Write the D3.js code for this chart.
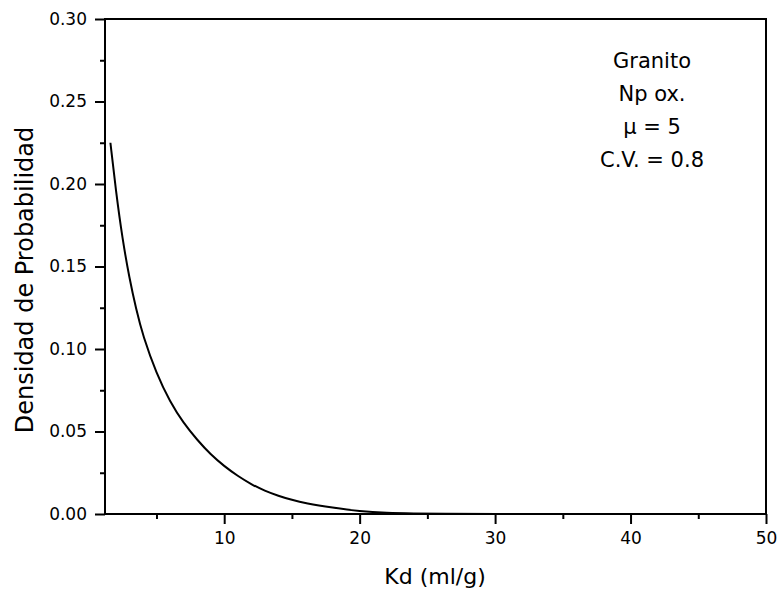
<!DOCTYPE html>
<html>
<head>
<meta charset="utf-8">
<script src="https://cdn.jsdelivr.net/npm/d3@7"></script>
<style>
body { margin: 0; background: #fff; }
svg text { font-family: "DejaVu Sans", sans-serif; fill: #000; }
</style>
</head>
<body>
<div class="container"></div>
<script>
// curve
var kd = [1.6, 2, 2.5, 3, 3.5, 4, 5, 6, 7, 8, 9, 10, 11, 12, 13, 14, 15, 16, 18, 20, 22, 24, 26, 30, 35, 40, 45, 50];
var density = [0.225, 0.196, 0.166, 0.143, 0.124, 0.108, 0.085, 0.068, 0.055, 0.045, 0.036, 0.029, 0.023, 0.018, 0.014, 0.011, 0.0085, 0.0065, 0.0038, 0.0016, 0.0006, 0.0003, 0.0001, 0, 0, 0, 0, 0];

var xTicks = [10, 20, 30, 40, 50];
var xMinor = [5, 15, 25, 35, 45];
var yTicks = [0, 0.05, 0.10, 0.15, 0.20, 0.25, 0.30];
var yMinor = [0.025, 0.075, 0.125, 0.175, 0.225, 0.275];
var notes = ["Granito", "Np ox.", "\u03bc = 5", "C.V. = 0.8"];

var opts = { width: 780, height: 596, left: 105, right: 766, top: 19, bottom: 514 };

var svg = d3.select(".container").append("svg")
	.attr("width", opts.width)
	.attr("height", opts.height);

var x = d3.scaleLinear().domain([1.2, 50]).range([opts.left, opts.right]);
var y = d3.scaleLinear().domain([0, 0.30]).range([opts.bottom, opts.top]);

// frame
svg.append("rect")
	.attr("x", opts.left).attr("y", opts.top)
	.attr("width", opts.right - opts.left).attr("height", opts.bottom - opts.top)
	.attr("fill", "none").attr("stroke", "#000").attr("stroke-width", 2);

var xAxis = svg.append("g").attr("transform", "translate(0," + opts.bottom + ")")
	.call(d3.axisBottom(x).tickValues(xTicks).tickSize(10).tickPadding(8).tickFormat(d3.format("d")));
var xAxisMinor = svg.append("g").attr("transform", "translate(0," + opts.bottom + ")")
	.call(d3.axisBottom(x).tickValues(xMinor).tickSize(5).tickFormat(""));

var yAxis = svg.append("g").attr("transform", "translate(" + opts.left + ",0)")
	.call(d3.axisLeft(y).tickValues(yTicks).tickSize(10).tickPadding(8).tickFormat(d3.format(".2f")));
var yAxisMinor = svg.append("g").attr("transform", "translate(" + opts.left + ",0)")
	.call(d3.axisLeft(y).tickValues(yMinor).tickSize(5).tickFormat(""));

svg.selectAll(".domain").remove();
svg.selectAll(".tick line").attr("stroke", "#000").attr("stroke-width", 2);
svg.selectAll(".tick text").style("font-size", "17px").attr("fill", "#000");

// curve
var pts = kd.map(function(d, i){ return [d, density[i]]; });
var line = d3.line()
	.x(function(d){ return x(d[0]); })
	.y(function(d){ return y(d[1]); })
	.curve(d3.curveBasis);

svg.append("path")
	.datum(pts)
	.attr("d", line)
	.attr("fill", "none")
	.attr("stroke", "#000")
	.attr("stroke-width", 2);

// axis titles
svg.append("text")
	.attr("x", 435).attr("y", 584)
	.attr("text-anchor", "middle")
	.style("font-size", "22px")
	.text("Kd (ml/g)");

svg.append("text")
	.attr("transform", "translate(33,280) rotate(-90)")
	.attr("text-anchor", "middle")
	.style("font-size", "24px")
	.text("Densidad de Probabilidad");

// annotation
svg.selectAll(".note").data(notes).enter().append("text")
	.attr("class", "note")
	.attr("x", 652)
	.attr("y", function(d, i){ return 68 + i * 33; })
	.attr("text-anchor", "middle")
	.style("font-size", "21px")
	.text(function(d){ return d; });
</script>
</body>
</html>
